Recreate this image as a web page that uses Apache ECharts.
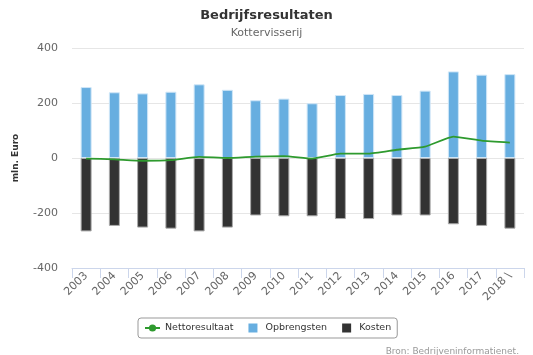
<!DOCTYPE html>
<html><head><meta charset="utf-8">
<script src="https://cdn.jsdelivr.net/npm/echarts@6/dist/echarts.min.js"></script>
<style>html,body{margin:0;padding:0;background:#fff}#c{width:533px;height:355px}</style>
</head><body><div id="c"></div>
<script>
const categories = ['2003','2004','2005','2006','2007','2008','2009','2010','2011','2012','2013','2014','2015','2016','2017','2018 \\'];
const nettoresultaat = [-2,-5,-10,-8,4,0,5,7,-2,16,16,30,41,78,63,56];
const opbrengsten = [258,239,235,241,268,248,210,216,199,229,233,229,245,315,303,305];
const kosten = [-267,-247,-253,-257,-267,-253,-209,-212,-212,-222,-222,-209,-209,-241,-247,-257];
const yTicks = [-400,-200,0,200,400];

const chart = echarts.init(document.getElementById('c'));
const font = 'DejaVu Sans, Verdana, sans-serif';
const sq = 'path://M0,0L10,0L10,10L0,10Z';
chart.setOption({
  animation:false,
  title:[
    {text:'Bedrijfsresultaten', left:'center', top:4, textStyle:{fontFamily:font,fontSize:13,fontWeight:'bold',color:'#333'}},
    {text:'Kottervisserij', left:'center', top:23, textStyle:{fontFamily:font,fontSize:11,fontWeight:'normal',color:'#666'}},
    {text:'Bron: Bedrijveninformatienet.', right:9, top:342, textStyle:{fontFamily:font,fontSize:9,fontWeight:'normal',color:'#999'}}
  ],
  grid:{left:72,right:9,top:48,bottom:87},
  legend:{
    data:[
      {name:'Nettoresultaat'},
      {name:'Opbrengsten', icon:sq, itemStyle:{borderWidth:0}},
      {name:'Kosten', icon:sq, itemStyle:{borderWidth:0}}
    ],
    left:138, top:318,
    borderColor:'#999', borderWidth:1, borderRadius:3, padding:[5,6,5,6],
    itemWidth:15, itemHeight:9, itemGap:15, symbolKeepAspect:true,
    textStyle:{fontFamily:font,fontSize:9.5,color:'#333'}
  },
  xAxis:{
    type:'category', data:categories,
    axisLine:{onZero:false, lineStyle:{color:'#ccd6eb'}},
    axisTick:{show:true, length:10, lineStyle:{color:'#ccd6eb'}, alignWithLabel:false},
    axisLabel:{rotate:45, fontFamily:font, fontSize:11, color:'#666', margin:6, interval:0}
  },
  yAxis:{
    type:'value', min:-400, max:400, interval:200,
    name:'mln. Euro', nameLocation:'middle', nameRotate:90, nameGap:52,
    nameTextStyle:{fontFamily:font,fontSize:9,fontWeight:'bold',color:'#333'},
    axisLine:{show:false}, axisTick:{show:false},
    splitLine:{lineStyle:{color:'#e6e6e6'}},
    axisLabel:{fontFamily:font,fontSize:11,color:'#666',margin:14,
      formatter:v=>yTicks.includes(v)?String(v):''}
  },
  series:[
    {name:'Opbrengsten', type:'bar', data:opbrengsten, barWidth:11, barGap:'-100%',
      itemStyle:{color:'#67aee0', borderColor:'#cfe6f7', borderWidth:1}, z:2},
    {name:'Kosten', type:'bar', data:kosten, barWidth:11,
      itemStyle:{color:'#333333', borderColor:'#aaa', borderWidth:1}, z:2},
    {name:'Nettoresultaat', type:'line', data:nettoresultaat, showSymbol:false, symbol:'circle', symbolSize:7,
      smooth:0.15, lineStyle:{color:'#2e9a2e', width:1.8}, itemStyle:{color:'#2e9a2e'}, z:5}
  ]
});
</script></body></html>
